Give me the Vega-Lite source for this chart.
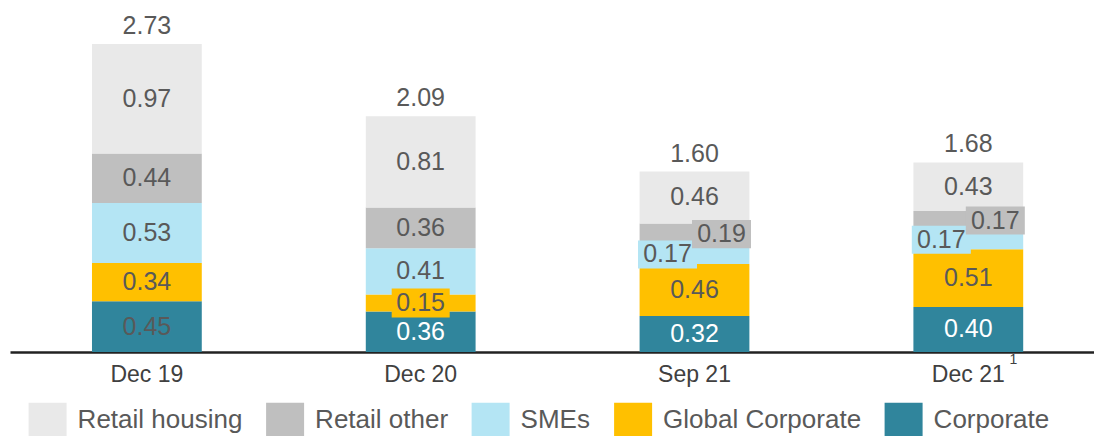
{
  "$schema": "https://vega.github.io/schema/vega-lite/v6.json",
  "width": 1084,
  "height": 348,
  "autosize": {"type": "none"},
  "padding": {"left": 10, "top": 4, "right": 0, "bottom": 84},
  "config": {
    "view": {"stroke": null},
    "font": "Liberation Sans",
    "axis": {"grid": false}
  },
  "data": {
    "values": [
      {"period": "Dec 19", "category": "Corporate", "value": 0.45},
      {"period": "Dec 19", "category": "Global Corporate", "value": 0.34},
      {"period": "Dec 19", "category": "SMEs", "value": 0.53},
      {"period": "Dec 19", "category": "Retail other", "value": 0.44},
      {"period": "Dec 19", "category": "Retail housing", "value": 0.97},
      {"period": "Dec 20", "category": "Corporate", "value": 0.36},
      {"period": "Dec 20", "category": "Global Corporate", "value": 0.15},
      {"period": "Dec 20", "category": "SMEs", "value": 0.41},
      {"period": "Dec 20", "category": "Retail other", "value": 0.36},
      {"period": "Dec 20", "category": "Retail housing", "value": 0.81},
      {"period": "Sep 21", "category": "Corporate", "value": 0.32},
      {"period": "Sep 21", "category": "Global Corporate", "value": 0.46},
      {"period": "Sep 21", "category": "SMEs", "value": 0.17},
      {"period": "Sep 21", "category": "Retail other", "value": 0.19},
      {"period": "Sep 21", "category": "Retail housing", "value": 0.46},
      {"period": "Dec 21", "category": "Corporate", "value": 0.40},
      {"period": "Dec 21", "category": "Global Corporate", "value": 0.51},
      {"period": "Dec 21", "category": "SMEs", "value": 0.17},
      {"period": "Dec 21", "category": "Retail other", "value": 0.17},
      {"period": "Dec 21", "category": "Retail housing", "value": 0.43}
    ]
  },
  "transform": [
    {"calculate": "datum.category == 'Corporate' ? 0 : datum.category == 'Global Corporate' ? 1 : datum.category == 'SMEs' ? 2 : datum.category == 'Retail other' ? 3 : 4", "as": "ord"},
    {"stack": "value", "groupby": ["period"], "sort": [{"field": "ord", "order": "ascending"}], "as": ["v0", "v1"]},
    {"calculate": "(datum.v0 + datum.v1) / 2", "as": "mid"}
  ],
  "encoding": {
    "x": {
      "field": "period",
      "type": "nominal",
      "scale": {"domain": ["Dec 19", "Dec 20", "Sep 21", "Dec 21"], "paddingInner": 0.599, "paddingOuter": 0.279, "align": 0.5366},
      "axis": {
        "title": null,
        "labelAngle": 0,
        "ticks": false,
        "domainColor": "#222222",
        "domainWidth": 2.5,
        "labelFontSize": 23,
        "labelColor": "#404040",
        "labelPadding": 11,
        "labelFont": "Liberation Sans"
      }
    }
  },
  "layer": [
    {
      "mark": {"type": "bar"},
      "encoding": {
        "y": {"field": "v0", "type": "quantitative", "scale": {"domain": [0, 3.085], "nice": false, "zero": true}, "axis": null},
        "y2": {"field": "v1"},
        "color": {
          "field": "category",
          "type": "nominal",
          "scale": {
            "domain": ["Retail housing", "Retail other", "SMEs", "Global Corporate", "Corporate"],
            "range": ["#e9e9e9", "#bfbfbf", "#b4e5f4", "#ffc000", "#30859c"]
          },
          "legend": {
            "orient": "none",
            "legendX": 18.6,
            "legendY": 397,
            "direction": "horizontal",
            "title": null,
            "symbolType": "M-1,-0.92L1,-0.92L1,0.92L-1,0.92Z",
            "symbolSize": 1444,
            "symbolStrokeWidth": 0,
            "symbolOpacity": 1,
            "labelFontSize": 26,
            "labelFont": "Liberation Sans",
            "labelColor": "#595959",
            "labelOffset": 11,
            "columnPadding": 23.5,
            "labelLimit": 400,
            "padding": 0
          }
        }
      }
    },
    {
      "transform": [{"filter": "datum.category == 'Global Corporate' && datum.value < 0.2"}],
      "mark": {"type": "point", "shape": "M-1,-0.5L1,-0.5L1,0.5L-1,0.5Z", "size": 3364, "filled": true, "opacity": 1, "color": "#ffc000", "strokeWidth": 0},
      "encoding": {"y": {"field": "mid", "type": "quantitative", "scale": {"domain": [0, 3.085], "nice": false, "zero": true}, "axis": null}}
    },
    {
      "transform": [{"filter": "datum.category == 'SMEs' && datum.value < 0.2"}],
      "mark": {"type": "point", "shape": "M-1,-0.475L1,-0.475L1,0.475L-1,0.475Z", "size": 3481, "filled": true, "opacity": 1, "color": "#b4e5f4", "strokeWidth": 0, "xOffset": -27},
      "encoding": {"y": {"field": "mid", "type": "quantitative", "scale": {"domain": [0, 3.085], "nice": false, "zero": true}, "axis": null}}
    },
    {
      "transform": [{"filter": "datum.category == 'Retail other' && datum.value < 0.2"}],
      "mark": {"type": "point", "shape": "M-1,-0.475L1,-0.475L1,0.475L-1,0.475Z", "size": 3481, "filled": true, "opacity": 1, "color": "#bfbfbf", "strokeWidth": 0, "xOffset": 27},
      "encoding": {"y": {"field": "mid", "type": "quantitative", "scale": {"domain": [0, 3.085], "nice": false, "zero": true}, "axis": null}}
    },
    {
      "transform": [{"filter": "!((datum.category == 'SMEs' || datum.category == 'Retail other') && datum.value < 0.2)"}],
      "mark": {"type": "text", "fontSize": 25, "baseline": "middle", "font": "Liberation Sans"},
      "encoding": {
        "y": {"field": "mid", "type": "quantitative", "scale": {"domain": [0, 3.085], "nice": false, "zero": true}, "axis": null},
        "text": {"field": "value", "type": "quantitative", "format": ".2f"},
        "color": {"condition": {"test": "datum.category == 'Corporate' && datum.period != 'Dec 19'", "value": "#ffffff"}, "value": "#595959"}
      }
    },
    {
      "transform": [{"filter": "datum.category == 'SMEs' && datum.value < 0.2"}],
      "mark": {"type": "text", "fontSize": 25, "baseline": "middle", "font": "Liberation Sans", "dx": -27, "color": "#595959"},
      "encoding": {
        "y": {"field": "mid", "type": "quantitative", "scale": {"domain": [0, 3.085], "nice": false, "zero": true}, "axis": null},
        "text": {"field": "value", "type": "quantitative", "format": ".2f"}
      }
    },
    {
      "transform": [{"filter": "datum.category == 'Retail other' && datum.value < 0.2"}],
      "mark": {"type": "text", "fontSize": 25, "baseline": "middle", "font": "Liberation Sans", "dx": 27, "color": "#595959"},
      "encoding": {
        "y": {"field": "mid", "type": "quantitative", "scale": {"domain": [0, 3.085], "nice": false, "zero": true}, "axis": null},
        "text": {"field": "value", "type": "quantitative", "format": ".2f"}
      }
    },
    {
      "mark": {"type": "text", "fontSize": 25, "baseline": "alphabetic", "font": "Liberation Sans", "dy": -10, "color": "#595959"},
      "encoding": {
        "y": {"aggregate": "sum", "field": "value", "type": "quantitative", "scale": {"domain": [0, 3.085], "nice": false, "zero": true}, "axis": null},
        "text": {"aggregate": "sum", "field": "value", "type": "quantitative", "format": ".2f"}
      }
    },
    {
      "transform": [{"filter": "datum.period == 'Dec 21' && datum.category == 'Corporate'"}],
      "mark": {"type": "text", "fontSize": 14, "baseline": "alphabetic", "font": "Liberation Sans", "dx": 45, "dy": 12, "color": "#404040"},
      "encoding": {
        "y": {"datum": 0, "type": "quantitative", "scale": {"domain": [0, 3.085], "nice": false, "zero": true}, "axis": null},
        "text": {"value": "1"}
      }
    }
  ]
}
